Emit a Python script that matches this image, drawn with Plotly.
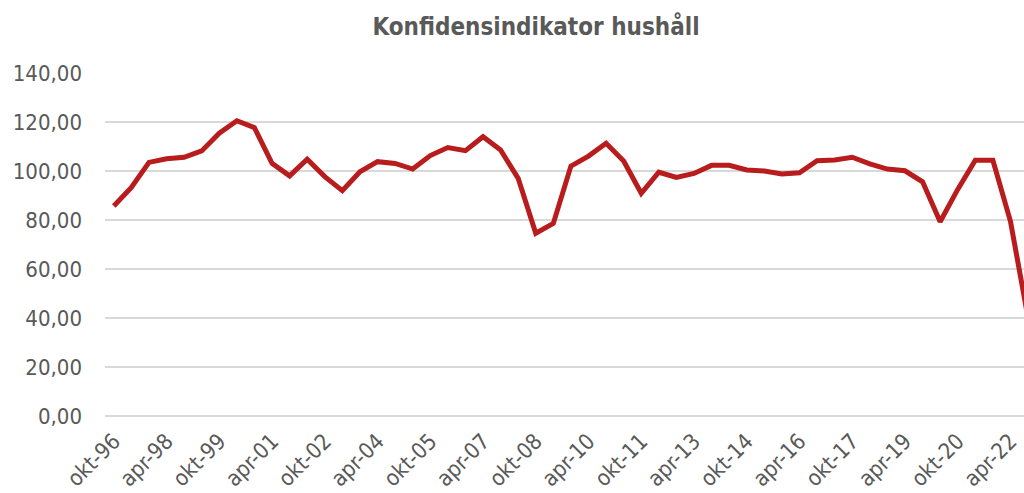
import plotly.graph_objects as go

# Half-year categories okt-96 ... okt-22
categories = []
for i in range(53):
    yr = 96 + (i + 1) // 2
    m = "okt" if i % 2 == 0 else "apr"
    categories.append(f"{m}-{yr % 100:02d}")

values = [85.7, 93.3, 103.5, 105.0, 105.6, 108.2, 115.4, 120.5, 117.7, 103.1,
          98.0, 104.8, 97.7, 92.0, 99.7, 103.8, 103.1, 100.8, 106.3, 109.6,
          108.3, 114.0, 108.6, 97.0, 74.6, 78.6, 102.0, 106.1, 111.3, 104.1,
          90.9, 99.5, 97.4, 99.0, 102.3, 102.3, 100.4, 100.0, 98.8, 99.3,
          104.2, 104.5, 105.6, 102.9, 100.8, 100.1, 95.6, 79.3, 92.5, 104.4,
          104.4, 79.5, 40.0]

tick_idx = list(range(0, 53, 3))
tick_text = [categories[i] for i in tick_idx]
y_ticks = [0, 20, 40, 60, 80, 100, 120, 140]

x = list(range(len(values)))

fig = go.Figure()
fig.add_trace(go.Scatter(
    x=x, y=values, mode="lines",
    line=dict(color="#B81C1C", width=5),
    hoverinfo="skip",
))

font_fam = "DejaVu Sans Condensed"
fig.update_layout(
    width=1024, height=493,
    margin=dict(l=105, r=0, t=73, b=77, autoexpand=False),
    paper_bgcolor="white", plot_bgcolor="white",
    separators=", ",
    showlegend=False,
    title=dict(text="<b>Konfidensindikator hushåll</b>",
               font=dict(family=font_fam, size=24, color="#595959"),
               x=536/1024, xref="container", xanchor="center",
               y=1 - 27/493, yref="container", yanchor="middle"),
    font=dict(family=font_fam, color="#595959", size=22),
)
fig.update_xaxes(
    range=[-0.5, 51.77], automargin=False,
    tickmode="array", tickvals=tick_idx, ticktext=tick_text,
    tickangle=-45, showgrid=False, zeroline=False, showline=False,
    ticks="", ticklabelstandoff=7,
    tickfont=dict(family=font_fam, size=22, color="#595959"),
)
fig.update_yaxes(
    range=[0, 140], tickmode="array", tickvals=y_ticks, automargin=False,
    tickformat=".2f",
    showgrid=True, gridcolor="#D9D9D9", gridwidth=1.5,
    zeroline=True, zerolinecolor="#D9D9D9", zerolinewidth=1.5,
    showline=False, ticks="", ticklabelstandoff=22,
    tickfont=dict(family=font_fam, size=22, color="#595959"),
)

fig.write_html("out.html", config={"displayModeBar": False},
               post_script="document.body.style.margin='0';document.body.style.overflow='hidden';")
